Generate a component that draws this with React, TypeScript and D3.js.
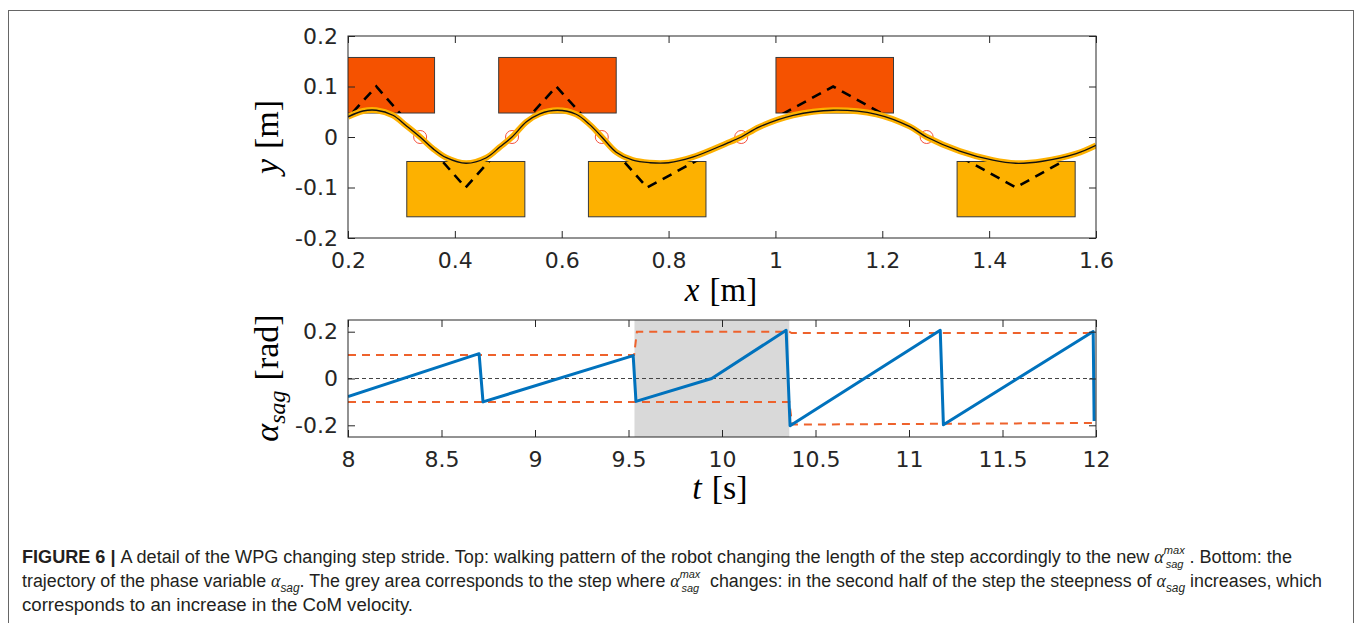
import React, { useEffect, useRef } from 'react';
import * as d3 from 'd3';

// ---- top panel (x, y in metres)
const leftFootStart = [0.142, 0.482, 1.001];
const leftFootEnd = [0.362, 0.702, 1.221];
const leftFootY = [0.0475, 0.1575];
const rightFootStart = [0.31, 0.65, 1.34];
const rightFootEnd = [0.531, 0.87, 1.561];
const rightFootY = [-0.158, -0.0485];

const zmpX = [0.08, 0.253, 0.42, 0.59, 0.76, 1.108, 1.45, 1.79];
const zmpY = [-0.1, 0.1, -0.1, 0.1, -0.1, 0.1, -0.1, 0.1];

const comX = [0.2, 0.228, 0.253, 0.284, 0.309, 0.335, 0.359, 0.384, 0.421, 0.459, 0.484, 0.507,
  0.534, 0.559, 0.592, 0.627, 0.652, 0.675, 0.702, 0.733, 0.765, 0.8, 0.845, 0.908, 0.936,
  0.97, 1.033, 1.108, 1.189, 1.251, 1.283, 1.345, 1.407, 1.45, 1.5, 1.563, 1.6];
const comY = [0.04, 0.0515, 0.053, 0.043, 0.0224, 0, -0.023, -0.041, -0.052, -0.041, -0.02, 0,
  0.03, 0.046, 0.053, 0.045, 0.025, 0, -0.03, -0.046, -0.051, -0.051, -0.04, -0.013, 0,
  0.02, 0.043, 0.053, 0.045, 0.021, 0, -0.028, -0.046, -0.052, -0.048, -0.033, -0.0165];

const stepSwitchX = [0.335, 0.507, 0.675, 0.936, 1.283];

const topXTicks = [0.2, 0.4, 0.6, 0.8, 1, 1.2, 1.4, 1.6];
const topXTickLabels = ['0.2', '0.4', '0.6', '0.8', '1', '1.2', '1.4', '1.6'];
const topYTicks = [-0.2, -0.1, 0, 0.1, 0.2];
const topYTickLabels = ['-0.2', '-0.1', '0', '0.1', '0.2'];

// ---- bottom panel (t in s, alpha in rad)
const phaseT = [8, 8.701, 8.722, 9.525, 9.54, 9.945, 10.343, 10.364, 11.167, 11.184, 11.985, 11.99];
const phaseA = [-0.077, 0.106, -0.1, 0.098, -0.098, 0, 0.206, -0.202, 0.206, -0.198, 0.201, -0.182];
const upperT = [8, 9.53, 9.545, 10.36, 10.372, 12];
const upperA = [0.1, 0.1, 0.2, 0.2, 0.194, 0.194];
const lowerT = [8, 10.36, 10.375, 12];
const lowerA = [-0.1, -0.1, -0.197, -0.19];
const changeStep = [9.532, 10.36];

const botXTicks = [8, 8.5, 9, 9.5, 10, 10.5, 11, 11.5, 12];
const botXTickLabels = ['8', '8.5', '9', '9.5', '10', '10.5', '11', '11.5', '12'];
const botYTicks = [-0.2, 0, 0.2];
const botYTickLabels = ['-0.2', '0', '0.2'];

const W = 1356;
const H = 623;
const AX = '#262626';

function drawFrame(g: any, x: any, y: any, xt: number[], xl: string[], yt: number[], yl: string[]) {
  const [x0, x1] = x.range();
  const [y0, y1] = y.range();
  const style = (sel: any) => {
    sel.select('.domain').remove();
    sel.selectAll('line').attr('stroke', AX);
    sel.selectAll('text').attr('fill', AX).attr('font-family', 'DejaVu Sans, sans-serif').attr('font-size', 22);
  };
  g.append('g').attr('transform', `translate(0,${y0})`)
    .call(d3.axisBottom(x).tickValues(xt).tickFormat((_d: any, i: number) => xl[i]).tickSizeInner(-7).tickSizeOuter(0).tickPadding(14))
    .call(style);
  g.append('g').attr('transform', `translate(0,${y1})`)
    .call(d3.axisTop(x).tickValues(xt).tickFormat(() => '').tickSizeInner(-7).tickSizeOuter(0))
    .call(style);
  g.append('g').attr('transform', `translate(${x0},0)`)
    .call(d3.axisLeft(y).tickValues(yt).tickFormat((_d: any, i: number) => yl[i]).tickSizeInner(-7).tickSizeOuter(0).tickPadding(10))
    .call(style);
  g.append('g').attr('transform', `translate(${x1},0)`)
    .call(d3.axisRight(y).tickValues(yt).tickFormat(() => '').tickSizeInner(-7).tickSizeOuter(0))
    .call(style);
  g.append('rect').attr('x', x0).attr('y', y1).attr('width', x1 - x0).attr('height', y0 - y1)
    .attr('fill', 'none').attr('stroke', AX).attr('stroke-width', 1);
}

export default function App() {
  const svgRef = useRef<SVGSVGElement>(null);

  useEffect(() => {
    if (!svgRef.current) return;
    const svg = d3.select(svgRef.current);
    svg.selectAll('*').remove();

    // outer figure box
    svg.append('rect').attr('x', 8.5).attr('y', 10.5).attr('width', 1345).attr('height', 640)
      .attr('fill', 'none').attr('stroke', '#666').attr('stroke-width', 1);

    const defs = svg.append('defs');

    // ===== top panel =====
    const xT = d3.scaleLinear().domain([0.2, 1.6]).range([348, 1096]);
    const yT = d3.scaleLinear().domain([-0.2, 0.2]).range([238, 36]);

    defs.append('clipPath').attr('id', 'clipTop').append('rect')
      .attr('x', 348).attr('y', 36).attr('width', 748).attr('height', 202);

    const feet = [
      ...leftFootStart.map((s, i) => ({ x0: s, x1: leftFootEnd[i], y0: leftFootY[0], y1: leftFootY[1], fill: '#F55200' })),
      ...rightFootStart.map((s, i) => ({ x0: s, x1: rightFootEnd[i], y0: rightFootY[0], y1: rightFootY[1], fill: '#FDB100' })),
    ];

    // the ZMP path only shows inside the feet
    const feetClip = defs.append('clipPath').attr('id', 'clipFeet');
    feet.forEach(f => {
      feetClip.append('rect').attr('x', xT(f.x0)).attr('y', yT(f.y1))
        .attr('width', xT(f.x1) - xT(f.x0)).attr('height', yT(f.y0) - yT(f.y1));
    });

    const gT = svg.append('g').attr('clip-path', 'url(#clipTop)');

    gT.selectAll('.foot').data(feet).enter().append('rect')
      .attr('class', 'foot')
      .attr('x', d => xT(d.x0)).attr('y', d => yT(d.y1))
      .attr('width', d => xT(d.x1) - xT(d.x0)).attr('height', d => yT(d.y0) - yT(d.y1))
      .attr('fill', d => d.fill).attr('stroke', '#3a3a3a').attr('stroke-width', 1);

    const zmp = zmpX.map((v, i) => [v, zmpY[i]] as [number, number]);
    gT.append('g').attr('clip-path', 'url(#clipFeet)').append('path')
      .datum(zmp)
      .attr('fill', 'none').attr('stroke', '#000').attr('stroke-width', 2.6)
      .attr('stroke-dasharray', '10,7')
      .attr('d', d3.line().x(d => xT(d[0])).y(d => yT(d[1])));

    // switching points
    gT.selectAll('.sw').data(stepSwitchX).enter().append('circle')
      .attr('class', 'sw')
      .attr('cx', d => xT(d)).attr('cy', yT(0)).attr('r', 6.5)
      .attr('fill', 'none').attr('stroke', '#F5503C').attr('stroke-width', 1);

    const com = comX.map((v, i) => [v, comY[i]] as [number, number]);
    const comLine = d3.line().x(d => xT(d[0])).y(d => yT(d[1])).curve(d3.curveCatmullRom);
    gT.append('path').datum(com)
      .attr('fill', 'none').attr('stroke', '#FDB100').attr('stroke-width', 6)
      .attr('d', comLine);
    gT.append('path').datum(com)
      .attr('fill', 'none').attr('stroke', '#111').attr('stroke-width', 1.3)
      .attr('d', comLine);

    drawFrame(svg.append('g'), xT, yT, topXTicks, topXTickLabels, topYTicks, topYTickLabels);

    // axis labels (top)
    svg.append('text').attr('transform', 'translate(278,137) rotate(-90)')
      .attr('text-anchor', 'middle').attr('font-family', 'Liberation Serif, serif').attr('font-size', 34)
      .call(t => {
        t.append('tspan').attr('font-style', 'italic').text('y');
        t.append('tspan').attr('dx', 10).text('[m]');
      });
    svg.append('text').attr('x', 721).attr('y', 301)
      .attr('text-anchor', 'middle').attr('font-family', 'Liberation Serif, serif').attr('font-size', 33)
      .call(t => {
        t.append('tspan').attr('font-style', 'italic').text('x');
        t.append('tspan').attr('dx', 10).text('[m]');
      });

    // ===== bottom panel =====
    const xB = d3.scaleLinear().domain([8, 12]).range([348, 1096]);
    const yB = d3.scaleLinear().domain([-0.25, 0.25]).range([437, 320]);

    defs.append('clipPath').attr('id', 'clipBot').append('rect')
      .attr('x', 348).attr('y', 320).attr('width', 748).attr('height', 117);

    const gB = svg.append('g').attr('clip-path', 'url(#clipBot)');

    gB.append('rect')
      .attr('x', xB(changeStep[0])).attr('y', yB(0.25))
      .attr('width', xB(changeStep[1]) - xB(changeStep[0])).attr('height', yB(-0.25) - yB(0.25))
      .attr('fill', '#D9D9D9');

    gB.append('line')
      .attr('x1', xB(8)).attr('x2', xB(12)).attr('y1', yB(0)).attr('y2', yB(0))
      .attr('stroke', '#444').attr('stroke-width', 1.2).attr('stroke-dasharray', '4,3');

    const lineB = d3.line().x(d => xB(d[0])).y(d => yB(d[1]));
    [[upperT, upperA], [lowerT, lowerA]].forEach(([ts, as]) => {
      gB.append('path').datum(ts.map((v, i) => [v, as[i]] as [number, number]))
        .attr('fill', 'none').attr('stroke', '#EE622C').attr('stroke-width', 2)
        .attr('stroke-dasharray', '8,6')
        .attr('d', lineB);
    });

    gB.append('path').datum(phaseT.map((v, i) => [v, phaseA[i]] as [number, number]))
      .attr('fill', 'none').attr('stroke', '#0072BD').attr('stroke-width', 3)
      .attr('stroke-linejoin', 'round')
      .attr('d', lineB);

    drawFrame(svg.append('g'), xB, yB, botXTicks, botXTickLabels, botYTicks, botYTickLabels);

    svg.append('text').attr('transform', 'translate(278,378) rotate(-90)')
      .attr('text-anchor', 'middle').attr('font-family', 'Liberation Serif, serif').attr('font-size', 34)
      .call(t => {
        t.append('tspan').attr('font-style', 'italic').text('α');
        t.append('tspan').attr('font-style', 'italic').attr('font-size', 24).attr('dy', 7).text('sag');
        t.append('tspan').attr('dx', 10).attr('dy', -7).text('[rad]');
      });
    svg.append('text').attr('x', 720).attr('y', 499)
      .attr('text-anchor', 'middle').attr('font-family', 'Liberation Serif, serif').attr('font-size', 34)
      .call(t => {
        t.append('tspan').attr('font-style', 'italic').text('t');
        t.append('tspan').attr('dx', 10).text('[s]');
      });

    // ===== caption =====
    const cap = svg.append('g').attr('font-family', 'Liberation Sans Narrow, Liberation Sans, Arial, sans-serif')
      .attr('font-size', 18).attr('fill', '#231F20');

    // writes alpha with sub/superscript, returns the dy that puts the next run back on the baseline
    const alpha = (t: any, withMax: boolean) => {
      t.append('tspan').attr('font-family', 'Liberation Serif, serif').attr('font-style', 'italic').text('α');
      if (withMax) {
        t.append('tspan').attr('font-style', 'italic').attr('font-size', 11).attr('dy', -9).text('max');
        t.append('tspan').attr('font-style', 'italic').attr('font-size', 11).attr('dx', -19).attr('dy', 14).text('sag');
      } else {
        t.append('tspan').attr('font-style', 'italic').attr('font-size', 12).attr('dy', 5).text('sag');
      }
      return -5;
    };

    const l1 = cap.append('text').attr('x', 22).attr('y', 563)
      .attr('textLength', 1270).attr('lengthAdjust', 'spacingAndGlyphs');
    l1.append('tspan').attr('font-weight', 'bold').attr('font-family', 'Liberation Sans, Arial, sans-serif').text('FIGURE 6 | ');
    l1.append('tspan').text('A detail of the WPG changing step stride. Top: walking pattern of the robot changing the length of the step accordingly to the new ');
    let back = alpha(l1, true);
    l1.append('tspan').attr('dy', back).attr('dx', 6).text('. Bottom: the');

    const l2 = cap.append('text').attr('x', 22).attr('y', 587)
      .attr('textLength', 1300).attr('lengthAdjust', 'spacingAndGlyphs');
    l2.append('tspan').text('trajectory of the phase variable ');
    back = alpha(l2, false);
    l2.append('tspan').attr('dy', back).text('. The grey area corresponds to the step where ');
    back = alpha(l2, true);
    l2.append('tspan').attr('dy', back).attr('dx', 6).text(' changes: in the second half of the step the steepness of ');
    back = alpha(l2, false);
    l2.append('tspan').attr('dy', back).text(' increases, which');

    cap.append('text').attr('x', 22).attr('y', 611)
      .attr('textLength', 391).attr('lengthAdjust', 'spacingAndGlyphs')
      .text('corresponds to an increase in the CoM velocity.');
  }, []);

  return (
    <div style={{ position: 'absolute', left: 0, top: 0, background: '#fff' }}>
      <svg ref={svgRef} width={W} height={H} />
    </div>
  );
}
